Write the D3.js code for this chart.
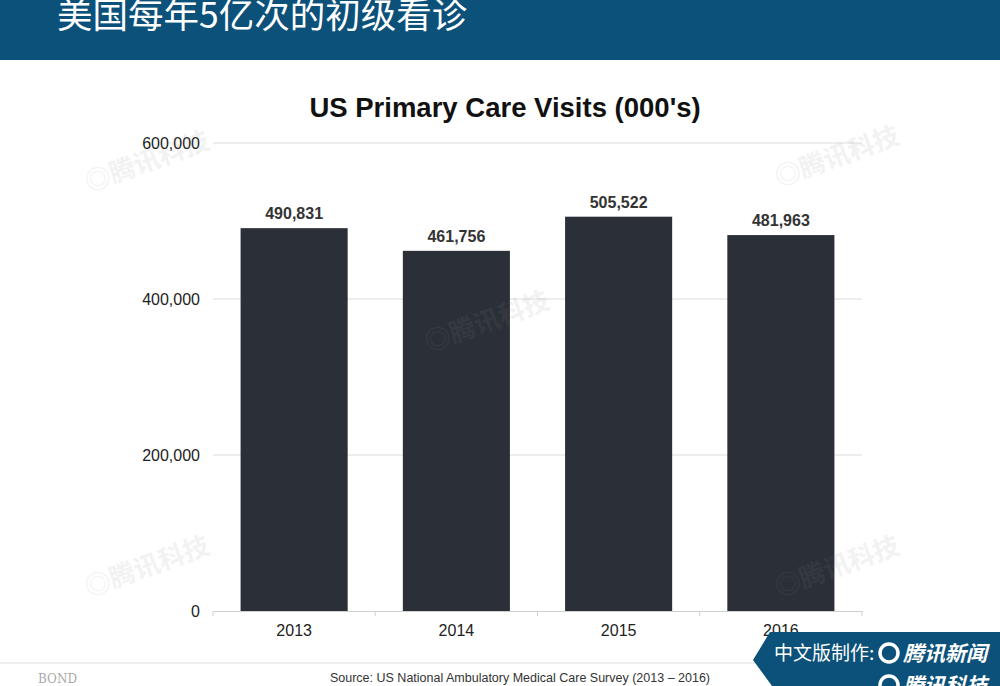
<!DOCTYPE html>
<html>
<head>
<meta charset="utf-8">
<script src="https://cdn.jsdelivr.net/npm/d3@7"></script>
<style>
  body { margin: 0; background: #fff; }
  svg { display: block; }
</style>
</head>
<body>
<div id="chart"></div>
<script>
// chart data
var years  = ['2013', '2014', '2015', '2016'];
var visits = [490831, 461756, 505522, 481963];
var yTicks = [0, 200000, 400000, 600000];

var W = 1000, H = 686;
var BAR_COLOR = '#2b3038';
var HEADER_COLOR = '#0c5179';

var svg = d3.select('#chart')
            .append('svg')
            .attr('width', W)
            .attr('height', H);

// header band
svg.append('rect')
    .attr('x', 0).attr('y', 0)
    .attr('width', W).attr('height', 60)
    .attr('fill', HEADER_COLOR);

svg.append('text')
    .attr('x', 57).attr('y', 28)
    .attr('fill', '#fff')
    .attr('font-family', '"Noto Sans CJK SC", sans-serif')
    .attr('font-size', 35.5)
    .text('美国每年5亿次的初级看诊');

// chart title
svg.append('text')
    .attr('x', 505).attr('y', 117)
    .attr('text-anchor', 'middle')
    .attr('font-family', '"Liberation Sans", Arial, sans-serif')
    .attr('font-weight', 'bold')
    .attr('font-size', 27.5)
    .attr('fill', '#111')
    .text("US Primary Care Visits (000's)");

// scales
var x = d3.scaleBand()
          .domain(years)
          .range([213, 862])
          .paddingInner(0.34)
          .paddingOuter(0.17);

var y = d3.scaleLinear()
          .domain([0, 600000])
          .range([611, 143]);

// gridlines
svg.append('g')
    .selectAll('line')
    .data(yTicks.slice(1))
    .enter()
    .append('line')
    .attr('x1', 213).attr('x2', 862)
    .attr('y1', function(d) { return y(d); })
    .attr('y2', function(d) { return y(d); })
    .attr('stroke', '#dcdcdc')
    .attr('stroke-width', 1);

// y axis labels
var yAxis = d3.axisLeft(y)
              .tickValues(yTicks)
              .tickSize(0)
              .tickPadding(13)
              .tickFormat(d3.format(','));

svg.append('g')
    .attr('transform', 'translate(213,0)')
    .call(yAxis)
    .call(function(g) { g.select('.domain').remove(); })
    .selectAll('text')
    .attr('font-family', '"Liberation Sans", Arial, sans-serif')
    .attr('font-size', 16)
    .attr('fill', '#222');

// bars
svg.append('g')
    .selectAll('rect')
    .data(visits)
    .enter()
    .append('rect')
    .attr('x', function(d, i) { return x(years[i]); })
    .attr('y', function(d) { return y(d); })
    .attr('width', x.bandwidth())
    .attr('height', function(d) { return y(0) - y(d); })
    .attr('fill', BAR_COLOR);

// value labels
svg.append('g')
    .selectAll('text')
    .data(visits)
    .enter()
    .append('text')
    .attr('x', function(d, i) { return x(years[i]) + x.bandwidth() / 2; })
    .attr('y', function(d) { return y(d) - 9; })
    .attr('text-anchor', 'middle')
    .attr('font-family', '"Liberation Sans", Arial, sans-serif')
    .attr('font-weight', 'bold')
    .attr('font-size', 16)
    .attr('fill', '#333')
    .text(d3.format(','));

// x axis
var xAxis = d3.axisBottom(x)
              .tickSize(0)
              .tickPadding(14);

var xg = svg.append('g')
            .attr('transform', 'translate(0,611)')
            .call(xAxis);
xg.select('.domain').attr('stroke', '#cfcfcf');
xg.selectAll('text')
  .attr('font-family', '"Liberation Sans", Arial, sans-serif')
  .attr('font-size', 16)
  .attr('fill', '#222');

// band boundary ticks
xg.selectAll('.sep')
  .data(d3.range(years.length + 1))
  .enter()
  .append('line')
  .attr('x1', function(i) { return 213 + i * (649 / years.length); })
  .attr('x2', function(i) { return 213 + i * (649 / years.length); })
  .attr('y1', 0).attr('y2', 5)
  .attr('stroke', '#cfcfcf');

// watermarks
var marks = [[150, 170], [840, 165], [490, 330], [150, 575], [840, 575]];
svg.append('g')
    .selectAll('text')
    .data(marks)
    .enter()
    .append('text')
    .attr('transform', function(d) { return 'translate(' + d[0] + ',' + d[1] + ') rotate(-20)'; })
    .attr('text-anchor', 'middle')
    .attr('font-family', '"Noto Sans CJK SC", sans-serif')
    .attr('font-weight', 'bold')
    .attr('font-size', 26)
    .attr('fill', '#888')
    .attr('opacity', 0.1)
    .text('◎腾讯科技');

// footer
svg.append('line')
    .attr('x1', 0).attr('x2', 1000)
    .attr('y1', 663).attr('y2', 663)
    .attr('stroke', '#eeeeee')
    .attr('stroke-width', 2);

svg.append('text')
    .attr('x', 38).attr('y', 683)
    .attr('font-family', '"DejaVu Serif", serif')
    .attr('font-size', 12)
    .attr('fill', '#aaa')
    .text('BOND');

svg.append('text')
    .attr('x', 520).attr('y', 682)
    .attr('text-anchor', 'middle')
    .attr('font-family', '"Liberation Sans", Arial, sans-serif')
    .attr('font-size', 12.5)
    .attr('fill', '#333')
    .text('Source: US National Ambulatory Medical Care Survey (2013 – 2016)');

// bottom-right badge
svg.append('path')
    .attr('d', 'M770,632 L1000,632 L1000,686 L772,686 L753,660 Z')
    .attr('fill', HEADER_COLOR);

var badgeFont = '"Noto Sans CJK SC", sans-serif';
svg.append('text')
    .attr('x', 774).attr('y', 660)
    .attr('fill', '#fff')
    .attr('font-family', badgeFont)
    .attr('font-size', 19)
    .text('中文版制作:');

svg.append('text')
    .attr('x', 903).attr('y', 661)
    .attr('fill', '#fff')
    .attr('font-family', badgeFont)
    .attr('font-weight', 'bold')
    .attr('font-style', 'italic')
    .attr('font-size', 21)
    .text('腾讯新闻');

svg.append('text')
    .attr('x', 903).attr('y', 693)
    .attr('fill', '#fff')
    .attr('font-family', badgeFont)
    .attr('font-weight', 'bold')
    .attr('font-style', 'italic')
    .attr('font-size', 21)
    .text('腾讯科技');

// logo circles in badge
[[889, 653], [889, 685]].forEach(function(c) {
    svg.append('circle')
        .attr('cx', c[0]).attr('cy', c[1]).attr('r', 9)
        .attr('fill', 'none')
        .attr('stroke', '#fff')
        .attr('stroke-width', 3.5);
});
</script>
</body>
</html>
